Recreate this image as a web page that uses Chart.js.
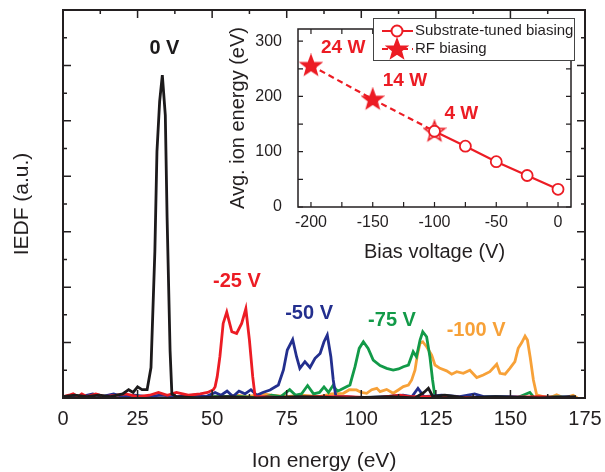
<!DOCTYPE html>
<html>
<head>
<meta charset="utf-8">
<script src="https://cdn.jsdelivr.net/npm/chart.js@4.4.0/dist/chart.umd.min.js"></script>
<style>
  html, body { margin: 0; padding: 0; background: #fff; }
  #wrap { position: relative; width: 605px; height: 472px; }
  #main { position: absolute; left: 0; top: 0; }
  #inset { position: absolute; left: 200px; top: 0; }
</style>
</head>
<body>
<div id="wrap">
  <canvas id="main" width="605" height="472"></canvas>
  <canvas id="inset" width="400" height="270"></canvas>
</div>
<script>
// IEDF curves: [ion energy (eV), intensity (a.u.)]
const iedf0V = [[0,0.05],[4,0.1],[8,0.05],[12,0.1],[16,0.05],[20,0.15],[22,0.3],[23.5,0.2],[25,0.4],[26.5,0.3],[28.2,0.3],
  [29.5,1.1],[30.8,5.3],[31.5,8.9],[32.4,10.7],[33.3,11.65],[34.3,10.2],[34.9,6.5],[35.9,1.7],[36.5,0.15],[38,0.05],
  [45,0],[55,0.05],[65,0],[80,0.05],[95,0],[110,0.05],[118,0],[121,0.2],[122.5,0.35],[124,0.05],[128,0.1],[135,0],
  [145,0.05],[160,0],[172,0.05]];

const iedfM25V = [[0,0.05],[2,0.1],[3.4,0.15],[5,0.05],[6.3,0.15],[8,0.05],[11,0.15],[14,0.05],[18,0.1],[21,0.15],[25,0.05],
  [29,0.1],[32,0.2],[35,0.1],[38,0.2],[42,0.1],[46,0.15],[48.5,0.2],[50.4,0.3],[51,0.41],[51.7,0.77],[52.6,1.49],
  [53.7,2.69],[54.9,3.1],[56.6,2.39],[58.2,2.33],[59.9,2.69],[61.3,3.22],[62.5,2.09],[63.6,0.77],[64.4,0.05],[67,0.05],
  [75,0],[85,0.05],[95,0.05],[105,0],[113,0.1],[116,0.05],[125,0.05],[140,0],[160,0.05],[172,0]];

const iedfM50V = [[2,0],[6,0.05],[10,0.15],[13,0.05],[17,0.15],[20,0.05],[24,0.1],[28,0.05],[33,0.1],[38,0.05],[44,0.1],
  [48,0.05],[51,0.2],[53,0.1],[55,0.25],[57,0.05],[59,0.25],[61,0.15],[63,0.3],[65,0.1],[67,0.2],[69.4,0.29],[72.2,0.47],
  [73.9,1.01],[75.2,1.73],[77,2.11],[78.3,1.49],[79.4,1.07],[81.1,1.31],[82.8,1.1],[84.5,1.43],[86.2,1.61],[87.5,2.03],
  [88.6,2.27],[89.8,1.49],[90.6,0.65],[91.5,0.05],[95,0.05],[100,0],[108,0.05],[114,0.1],[117,0.05],[119,0.35],[121,0.05],
  [127,0.1],[133,0.05],[138,0.15],[141,0.05],[150,0.05],[160,0],[170,0.05]];

const iedfM75V = [[40,0],[50,0.05],[60,0.05],[66,0],[70,0.1],[73,0.05],[76,0.3],[78,0.1],[80,0.15],[82,0.45],[84,0.15],
  [86,0.2],[87.5,0.4],[89,0.2],[90.5,0.45],[92,0.25],[92.9,0.29],[96.2,0.47],[97.9,1.13],[99.3,1.79],[100.7,2.03],
  [102.3,1.79],[104,1.37],[106.3,1.17],[108.5,1.07],[110.7,1.01],[112.5,1.05],[114.1,1.13],[115.8,1.19],[117.4,1.67],
  [118.5,1.49],[119.7,2.09],[120.6,2.39],[121.9,2.21],[123,1.49],[123.9,0.65],[124.7,0.05],[128,0.05],[135,0],[145,0.05],
  [152,0],[156.5,0.2],[158,0],[165,0.05],[172,0]];

const iedfM100V = [[30,0],[45,0.05],[55,0.05],[58,0.1],[62,0.05],[67,0.15],[70,0.1],[75,0.05],[80,0.1],[86,0.05],[90,0.15],
  [94,0.17],[96,0.3],[98.4,0.29],[100,0.2],[101.8,0.17],[103.5,0.3],[105.2,0.35],[106.3,0.23],[108.5,0.31],[110.7,0.17],
  [112.4,0.29],[114.1,0.41],[115.8,0.47],[116.9,0.65],[118,1.0],[118.8,1.55],[119.7,1.97],[120.6,2.03],[121.9,1.85],
  [123.6,1.55],[124.7,1.19],[126.4,1.07],[128.6,0.98],[130.3,0.86],[132,0.95],[134.2,0.89],[136.4,1.0],[138.7,0.74],
  [140.9,0.83],[143.1,0.95],[145.4,1.22],[146.5,0.89],[148.2,0.86],[149.8,1.07],[151.5,1.31],[152.6,1.79],[153.8,2.0],
  [154.9,2.23],[155.7,2.09],[156.6,1.49],[157.7,0.65],[158.8,0.11],[161,0.05],[163,0],[165.5,0.12],[168,0],[171,0.1],[172.5,0]];

const biasLabels = ['0 V', '-25 V', '-50 V', '-75 V', '-100 V'];
const energyTicks = [0, 12.5, 25, 37.5, 50, 62.5, 75, 87.5, 100, 112.5, 125, 137.5, 150, 162.5, 175];
const iedfTicks = [0, 1, 2, 3, 4, 5, 6, 7, 8, 9, 10, 11, 12, 13, 14];

// inset: average ion energy vs bias voltage
const tunedBias = [-100, -75, -50, -25, 0];
const tunedEnergy = [137, 110, 82, 57, 32];
const rfBias = [-200, -150, -100];
const rfEnergy = [256, 195, 137];
const rfPower = ['24 W', '14 W', '4 W'];
const biasTicks = [-200, -175, -150, -125, -100, -75, -50, -25, 0];
const avgTicks = [0, 50, 100, 150, 200, 250, 300];

const colors = ['#1c1a1b', '#ec1c24', '#232f8e', '#129a48', '#f7a138'];
const ink = '#231f20';
const FONT = "'Liberation Sans', Arial, Helvetica, sans-serif";
Chart.defaults.font.family = FONT;
Chart.defaults.color = ink;

// where each curve label sits, in data units
const labelAnchors = [[34, 12.6], [58.3, 4.2], [82.5, 3.05], [110.3, 2.8], [138.5, 2.45]];

function starCanvas(filled) {
  const c = document.createElement('canvas');
  c.width = 24; c.height = 24;
  const g = c.getContext('2d');
  g.beginPath();
  for (let i = 0; i < 10; i++) {
    const r = i % 2 === 0 ? 10.5 : 4.4;
    const a = -Math.PI / 2 + i * Math.PI / 5;
    g.lineTo(12 + r * Math.cos(a), 12.5 + r * Math.sin(a));
  }
  g.closePath();
  g.fillStyle = filled ? colors[1] : '#fff';
  g.fill();
  g.lineWidth = 1.6;
  g.strokeStyle = colors[1];
  g.stroke();
  return c;
}
const filledStar = starCanvas(true);
const hollowStar = starCanvas(false);

// box round the plot area plus inward ticks on all four sides
const framePlugin = {
  id: 'frame',
  beforeDatasetsDraw(chart) {
    const { ctx, chartArea: a } = chart;
    ctx.save();
    ctx.fillStyle = '#fff';
    ctx.fillRect(a.left, a.top, a.right - a.left, a.bottom - a.top);
    ctx.restore();
  },
  afterDraw(chart, args, o) {
    const { ctx, chartArea: a, scales } = chart;
    ctx.save();
    ctx.strokeStyle = ink;
    ctx.lineWidth = o.tickWidth;
    ctx.beginPath();
    scales.x.ticks.forEach(t => {
      const p = scales.x.getPixelForValue(t.value);
      const len = o.majorX(t.value) ? o.major : o.minor;
      ctx.moveTo(p, a.bottom); ctx.lineTo(p, a.bottom - len);
      ctx.moveTo(p, a.top); ctx.lineTo(p, a.top + len);
    });
    scales.y.ticks.forEach(t => {
      const p = scales.y.getPixelForValue(t.value);
      const len = o.majorY(t.value) ? o.major : o.minor;
      ctx.moveTo(a.left, p); ctx.lineTo(a.left + len, p);
      ctx.moveTo(a.right, p); ctx.lineTo(a.right - len, p);
    });
    ctx.stroke();
    ctx.lineWidth = o.width;
    ctx.strokeRect(a.left, a.top, a.right - a.left, a.bottom - a.top);
    ctx.restore();
  }
};

const curveLabels = {
  id: 'curveLabels',
  afterDatasetsDraw(chart) {
    const { ctx, scales } = chart;
    ctx.save();
    ctx.font = 'bold 20px ' + FONT;
    ctx.textAlign = 'center';
    ctx.textBaseline = 'middle';
    biasLabels.forEach((txt, i) => {
      ctx.fillStyle = colors[i];
      ctx.fillText(txt, scales.x.getPixelForValue(labelAnchors[i][0]), scales.y.getPixelForValue(labelAnchors[i][1]));
    });
    ctx.restore();
  }
};

const series = [iedf0V, iedfM25V, iedfM50V, iedfM75V, iedfM100V];

new Chart(document.getElementById('main'), {
  type: 'line',
  data: {
    datasets: series.map((d, i) => ({
      label: biasLabels[i],
      data: d,
      borderColor: colors[i],
      borderWidth: 2.8,
      pointRadius: 0,
      tension: 0
    }))
  },
  options: {
    responsive: false,
    animation: false,
    layout: { padding: { top: 10, right: 20, left: 0, bottom: 0 } },
    plugins: {
      legend: { display: false },
      tooltip: { enabled: false },
      frame: { width: 2, tickWidth: 1.5, major: 8, minor: 4,
        majorX: v => v % 25 === 0, majorY: v => v % 2 === 0 }
    },
    scales: {
      x: {
        type: 'linear', min: 0, max: 175,
        afterBuildTicks: s => { s.ticks = energyTicks.map(v => ({ value: v })); },
        afterFit: s => { s.height = 74; },
        grid: { display: false },
        border: { display: false },
        ticks: { autoSkip: false, maxRotation: 0, padding: 1, font: { size: 20 }, color: ink,
          callback: v => (v % 25 === 0 ? v : '') },
        title: { display: true, text: 'Ion energy (eV)', font: { size: 21 }, color: ink, padding: { top: 0, bottom: -2 } }
      },
      y: {
        min: 0, max: 14,
        afterBuildTicks: s => { s.ticks = iedfTicks.map(v => ({ value: v })); },
        afterFit: s => { s.width = 63; },
        grid: { display: false },
        border: { display: false },
        ticks: { display: false },
        title: { display: true, text: 'IEDF (a.u.)', font: { size: 21 }, color: ink, padding: { top: 10, bottom: 0 } }
      }
    }
  },
  plugins: [framePlugin, curveLabels]
});

const powerLabels = {
  id: 'powerLabels',
  afterDatasetsDraw(chart) {
    const { ctx, scales } = chart;
    ctx.save();
    ctx.font = 'bold 19px ' + FONT;
    ctx.fillStyle = colors[1];
    ctx.textAlign = 'left';
    ctx.textBaseline = 'middle';
    rfPower.forEach((txt, i) => {
      ctx.fillText(txt, scales.x.getPixelForValue(rfBias[i]) + 10, scales.y.getPixelForValue(rfEnergy[i]) - 18);
    });
    ctx.restore();
  }
};

const legendBox = {
  id: 'legendBox',
  afterDraw(chart) {
    const ctx = chart.ctx;
    ctx.save();
    ctx.fillStyle = '#fff';
    ctx.fillRect(173, 18, 201, 42);
    ctx.strokeStyle = '#444';
    ctx.lineWidth = 1;
    ctx.strokeRect(173.5, 18.5, 201, 42);
    ctx.strokeStyle = colors[1];
    ctx.lineWidth = 2;
    ctx.beginPath(); ctx.moveTo(182, 31); ctx.lineTo(213, 31); ctx.stroke();
    ctx.beginPath(); ctx.arc(197, 31, 5.5, 0, Math.PI * 2); ctx.fillStyle = '#fff'; ctx.fill(); ctx.stroke();
    ctx.setLineDash([6, 4]);
    ctx.beginPath(); ctx.moveTo(182, 49); ctx.lineTo(213, 49); ctx.stroke();
    ctx.setLineDash([]);
    ctx.drawImage(filledStar, 197 - 12, 49 - 12);
    ctx.fillStyle = ink;
    ctx.font = '15px ' + FONT;
    ctx.textBaseline = 'middle';
    ctx.fillText('Substrate-tuned biasing', 215, 31);
    ctx.fillText('RF biasing', 215, 49);
    ctx.restore();
  }
};

new Chart(document.getElementById('inset'), {
  type: 'line',
  data: {
    datasets: [
      {
        label: 'Substrate-tuned biasing',
        data: tunedBias.map((v, i) => ({ x: v, y: tunedEnergy[i] })),
        borderColor: colors[1],
        borderWidth: 2.2,
        pointStyle: 'circle',
        pointRadius: 5.5,
        pointBorderWidth: 1.8,
        pointBackgroundColor: '#fff',
        pointBorderColor: colors[1]
      },
      {
        label: 'RF biasing',
        data: rfBias.map((v, i) => ({ x: v, y: rfEnergy[i] })),
        borderColor: colors[1],
        borderWidth: 2.2,
        borderDash: [6, 4],
        pointStyle: c => (c.dataIndex === rfBias.length - 1 ? hollowStar : filledStar)
      }
    ]
  },
  options: {
    responsive: false,
    animation: false,
    layout: { padding: { top: 29, right: 29, left: 0, bottom: 0 } },
    plugins: {
      legend: { display: false },
      tooltip: { enabled: false },
      frame: { width: 1.5, tickWidth: 1.2, major: 5, minor: 5,
        majorX: v => v % 50 === 0, majorY: v => v % 100 === 0 }
    },
    scales: {
      x: {
        type: 'linear', min: -210.5, max: 10.5,
        afterBuildTicks: s => { s.ticks = biasTicks.map(v => ({ value: v })); },
        afterFit: s => { s.height = 63; },
        grid: { display: false },
        border: { display: false },
        ticks: { autoSkip: false, maxRotation: 0, padding: -2, font: { size: 16 }, color: ink,
          callback: v => (v % 50 === 0 ? v : '') },
        title: { display: true, text: 'Bias voltage (V)', font: { size: 20 }, color: ink, padding: { top: 0, bottom: 6 } }
      },
      y: {
        min: 0, max: 322,
        afterBuildTicks: s => { s.ticks = avgTicks.map(v => ({ value: v })); },
        afterFit: s => { s.width = 98; },
        grid: { display: false },
        border: { display: false },
        ticks: { padding: 8, font: { size: 16 }, color: ink, callback: v => (v % 100 === 0 ? v : '') },
        title: { display: true, text: 'Avg. ion energy (eV)', font: { size: 20 }, color: ink, padding: { top: 26, bottom: 0 } }
      }
    }
  },
  plugins: [framePlugin, powerLabels, legendBox]
});
</script>
</body>
</html>
